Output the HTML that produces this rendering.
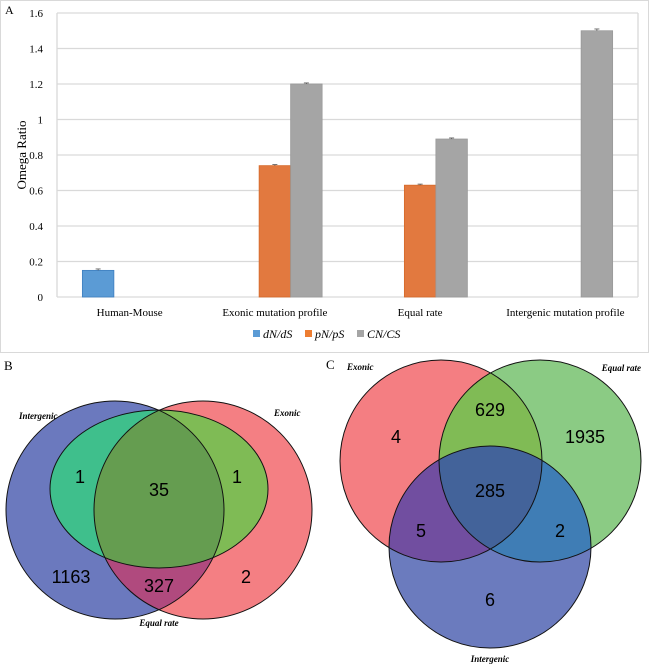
<!DOCTYPE html>
<html><head><meta charset="utf-8"><style>
body{margin:0;background:#fff;width:650px;height:668px;overflow:hidden}
svg{display:block}
</style></head><body>
<svg width="650" height="668" viewBox="0 0 650 668" xmlns="http://www.w3.org/2000/svg">
<rect x="0.5" y="0.5" width="648" height="352" fill="#fff" stroke="#d9d9d9"/>
<text x="5" y="14" font-family="Liberation Serif, serif" font-size="12">A</text>
<g id="chart"></g>
<text transform="translate(26,155) rotate(-90)" text-anchor="middle" font-family="Liberation Serif, serif" font-size="13">Omega  Ratio</text>
<g font-family="Liberation Serif, serif" font-size="12" font-style="italic">
<g><rect x="253" y="330" width="7" height="7" fill="#5b9bd5"/><text x="263" y="338">dN/dS</text></g>
<g><rect x="305" y="330" width="7" height="7" fill="#ed7d31"/><text x="315" y="338">pN/pS</text></g>
<g><rect x="357" y="330" width="7" height="7" fill="#a5a5a5"/><text x="367" y="338">CN/CS</text></g>
</g>

<defs>
<clipPath id="bI"><circle cx="115" cy="510" r="109"/></clipPath>
<clipPath id="bE"><circle cx="203" cy="510" r="109"/></clipPath>
<clipPath id="bQ"><ellipse cx="159" cy="489" rx="109" ry="79"/></clipPath>
<clipPath id="cE"><circle cx="441" cy="461" r="101"/></clipPath>
<clipPath id="cQ"><circle cx="540" cy="461" r="101"/></clipPath>
<clipPath id="cI"><circle cx="490" cy="547" r="101"/></clipPath>
</defs>

<text x="4" y="370" font-family="Liberation Serif, serif" font-size="13">B</text>
<g>
<circle cx="115" cy="510" r="109" fill="#6b79be"/>
<circle cx="203" cy="510" r="109" fill="#f47f83"/>
<g clip-path="url(#bI)"><circle cx="203" cy="510" r="109" fill="#b04a7e"/></g>
<ellipse cx="159" cy="489" rx="109" ry="79" fill="#8bcc85"/>
<g clip-path="url(#bQ)"><circle cx="115" cy="510" r="109" fill="#3fbf8c"/><circle cx="203" cy="510" r="109" fill="#7fbb55"/><g clip-path="url(#bI)"><circle cx="203" cy="510" r="109" fill="#659d50"/></g></g>
<g fill="none" stroke="#111" stroke-width="1"><circle cx="115" cy="510" r="109"/><circle cx="203" cy="510" r="109"/><ellipse cx="159" cy="489" rx="109" ry="79"/></g>
<g font-family="Liberation Serif, serif" font-size="9" font-style="italic" font-weight="bold">
<text x="19" y="419">Intergenic</text>
<text x="274" y="416">Exonic</text>
<text x="159" y="626" text-anchor="middle">Equal rate</text>
</g>
<g font-family="Liberation Sans, sans-serif" font-size="18" text-anchor="middle">
<text x="80" y="483">1</text><text x="159" y="496">35</text><text x="237" y="483">1</text>
<text x="71" y="583">1163</text><text x="159" y="592">327</text><text x="246" y="583">2</text>
</g>
</g>

<text x="326" y="369" font-family="Liberation Serif, serif" font-size="13">C</text>
<g>
<circle cx="441" cy="461" r="101" fill="#f47e82"/>
<circle cx="540" cy="461" r="101" fill="#8bcb84"/>
<circle cx="490" cy="547" r="101" fill="#6b7bbe"/>
<g clip-path="url(#cE)"><circle cx="540" cy="461" r="101" fill="#80bb55"/><circle cx="490" cy="547" r="101" fill="#714ea0"/></g>
<g clip-path="url(#cQ)"><circle cx="490" cy="547" r="101" fill="#3f7db5"/><g clip-path="url(#cE)"><circle cx="490" cy="547" r="101" fill="#43639a"/></g></g>
<g fill="none" stroke="#111" stroke-width="1"><circle cx="441" cy="461" r="101"/><circle cx="540" cy="461" r="101"/><circle cx="490" cy="547" r="101"/></g>
<g font-family="Liberation Serif, serif" font-size="9" font-style="italic" font-weight="bold">
<text x="347" y="370">Exonic</text>
<text x="641" y="371" text-anchor="end">Equal rate</text>
<text x="490" y="662" text-anchor="middle">Intergenic</text>
</g>
<g font-family="Liberation Sans, sans-serif" font-size="18" text-anchor="middle">
<text x="396" y="443">4</text><text x="490" y="416">629</text><text x="585" y="443">1935</text>
<text x="490" y="497">285</text><text x="421" y="537">5</text><text x="560" y="537">2</text><text x="490" y="606">6</text>
</g>
</g>
</svg>
<script>
const categories=["Human-Mouse","Exonic mutation profile","Equal rate","Intergenic mutation profile"];
const dnds=[0.15,null,null,null];
const pnps=[null,0.74,0.63,null];
const cncs=[null,1.2,0.89,1.5];
const errs=[0.008,0.006,0.006,0.01];
const yTicks=[0,0.2,0.4,0.6,0.8,1,1.2,1.4,1.6];
const yTickLabels=["0","0.2","0.4","0.6","0.8","1","1.2","1.4","1.6"];
const NS="http://www.w3.org/2000/svg";
const X0=57,X1=638,Y0=297,Y1=13,YMAX=1.6;
const y=v=>Y0-(v/YMAX)*(Y0-Y1);
const band=(X1-X0)/categories.length;
const bw=31.5;
const g=document.getElementById('chart');
function mk(t,a){const e=document.createElementNS(NS,t);for(const k in a)e.setAttribute(k,a[k]);g.appendChild(e);return e;}
yTicks.forEach((v,i)=>{
 const l=mk('line',{x1:X0,x2:X1,y1:y(v),y2:y(v),stroke:'#d9d9d9','stroke-width':1.3});
 
 
 const t=mk('text',{x:X0-14,y:y(v)+4,'text-anchor':'end','font-family':'Liberation Serif, serif','font-size':11});
 t.textContent=yTickLabels[i];
 
 
});
mk('line',{x1:X0,x2:X0,y1:Y1,y2:Y0,stroke:'#d9d9d9','stroke-width':1.3});
mk('line',{x1:X1,x2:X1,y1:Y1,y2:Y0,stroke:'#d9d9d9','stroke-width':1.3});
const series=[[dnds,'#5b9bd5','#3e7fc0'],[pnps,'#e2793f','#d56a2a'],[cncs,'#a5a5a5','#999']];
categories.forEach((c,i)=>{
 const cx=X0+band*(i+0.5);
 series.forEach((s,j)=>{
  const v=s[0][i]; if(v==null)return;
  const x=cx-1.5*bw+j*bw;
  const r=mk('rect',{x:x,y:y(v),width:bw,height:Y0-y(v),fill:s[1],stroke:s[2],'stroke-width':0.8});
  
  
  const ey=y(v+errs[i]);
  mk('line',{x1:x+bw/2,x2:x+bw/2,y1:y(v),y2:ey,stroke:'#555','stroke-width':0.8});
  mk('line',{x1:x+bw/2-2.5,x2:x+bw/2+2.5,y1:ey,y2:ey,stroke:'#555','stroke-width':0.8});
 });
 const t=mk('text',{x:cx,y:316,'text-anchor':'middle','font-family':'Liberation Serif, serif','font-size':11});
 t.textContent=c;
 
 
});
</script>
</body></html>
